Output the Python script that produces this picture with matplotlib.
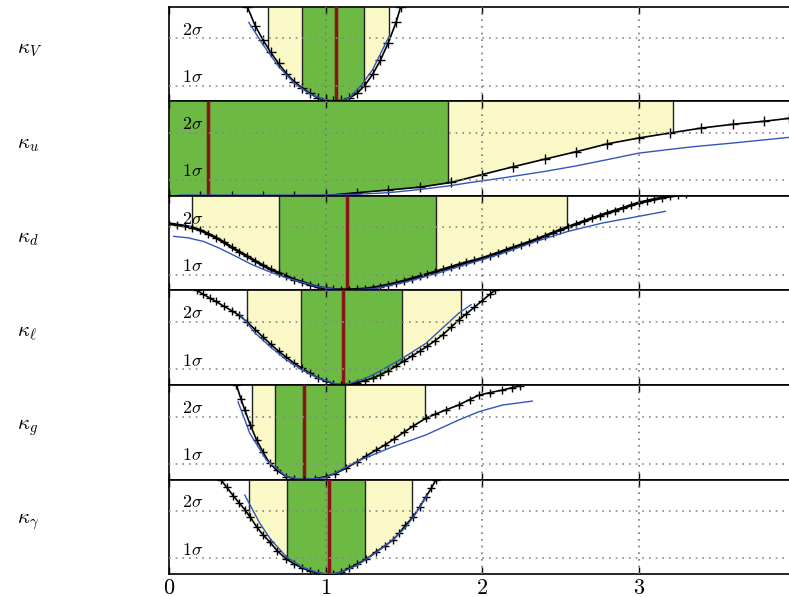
import numpy as np
import matplotlib
matplotlib.use("Agg")
import matplotlib.pyplot as plt

plt.rcParams["mathtext.fontset"] = "cm"

# panel names
labels = [r"$\kappa_V$", r"$\kappa_u$", r"$\kappa_d$", r"$\kappa_\ell$", r"$\kappa_g$", r"$\kappa_\gamma$"]

# kappa_V
kV_x = [0.50, 0.55, 0.60, 0.65, 0.70, 0.75, 0.80, 0.85, 0.90, 0.95, 1.00, 1.05, 1.10, 1.15, 1.20, 1.25, 1.30, 1.35, 1.40, 1.45, 1.48]
kV_chi = [6.0, 4.8, 3.9, 3.1, 2.4, 1.75, 1.25, 0.85, 0.5, 0.22, 0.05, 0.0, 0.05, 0.2, 0.5, 1.0, 1.7, 2.6, 3.7, 5.0, 6.0]
kV_bx = [0.51, 0.60, 0.70, 0.80, 0.90, 1.00, 1.07, 1.15, 1.227, 1.30, 1.36, 1.41]
kV_blue = [5.0, 3.6, 2.2, 1.15, 0.45, 0.08, 0.0, 0.2, 1.0, 2.0, 3.2, 4.2]

# kappa_u
ku_x = [0.0, 0.2, 0.4, 0.6, 0.8, 1.0, 1.2, 1.4, 1.6, 1.8, 2.0, 2.2, 2.4, 2.6, 2.8, 3.0, 3.2, 3.4, 3.6, 3.8, 3.96]
ku_chi = [0.0, 0.0, 0.0, 0.0, 0.0, 0.02, 0.2, 0.37, 0.55, 0.85, 1.35, 1.85, 2.33, 2.8, 3.3, 3.67, 3.99, 4.3, 4.54, 4.73, 4.92]
ku_bx = [0.06, 0.5, 1.0, 1.2, 1.4, 1.6, 1.8, 1.92, 2.14, 2.4, 2.6, 2.8, 3.0, 3.2, 3.36, 3.6, 3.8, 3.96]
ku_blue = [0.05, 0.05, 0.05, 0.1, 0.2, 0.4, 0.65, 0.84, 1.15, 1.55, 1.9, 2.3, 2.71, 2.95, 3.13, 3.35, 3.55, 3.71]

# kappa_d
kd_x = [0.00, 0.05, 0.10, 0.15, 0.20, 0.25, 0.30, 0.35, 0.40, 0.45, 0.50, 0.55, 0.60, 0.65, 0.70, 0.75,
        0.80, 0.85, 0.90, 0.95, 1.00, 1.05, 1.10, 1.15, 1.20, 1.25, 1.30, 1.35, 1.40, 1.45, 1.50, 1.55,
        1.60, 1.65, 1.70, 1.75, 1.80, 1.85, 1.90, 1.95, 2.00, 2.05, 2.10, 2.15, 2.20, 2.25, 2.30, 2.35,
        2.40, 2.45, 2.50, 2.55, 2.60, 2.65, 2.70, 2.75, 2.80, 2.85, 2.90, 2.95, 3.00, 3.05, 3.10, 3.15,
        3.20, 3.25, 3.30]
kd_chi = [4.24, 4.17, 4.09, 3.99, 3.82, 3.59, 3.35, 3.06, 2.74, 2.45, 2.16, 1.87, 1.59, 1.33, 1.12, 0.90,
          0.69, 0.53, 0.37, 0.22, 0.13, 0.07, 0.05, 0.05, 0.07, 0.10, 0.17, 0.25, 0.36, 0.47, 0.61, 0.75,
          0.89, 1.03, 1.18, 1.33, 1.48, 1.64, 1.78, 1.90, 2.04, 2.21, 2.38, 2.56, 2.73, 2.90, 3.07, 3.26,
          3.45, 3.65, 3.85, 4.03, 4.21, 4.39, 4.57, 4.74, 4.91, 5.07, 5.23, 5.40, 5.56, 5.67, 5.78, 5.88,
          5.97, 6.05, 6.12]
kd_bx = [0.03, 0.12, 0.22, 0.32, 0.43, 0.53, 0.64, 0.75, 0.855, 0.95, 1.05, 1.15, 1.3, 1.5, 1.7, 1.9, 2.13, 2.34, 2.55, 2.77, 3.0, 3.17]
kd_blue = [3.43, 3.34, 3.11, 2.69, 2.15, 1.64, 1.19, 0.8, 0.5, 0.25, 0.08, 0.03, 0.1, 0.5, 1.05, 1.65, 2.35, 3.1, 3.75, 4.28, 4.7, 5.02]

# kappa_l
kl_x = [0.18, 0.22, 0.26, 0.30, 0.35, 0.40, 0.45, 0.50, 0.55, 0.60, 0.65, 0.70, 0.75, 0.80, 0.85, 0.90,
        0.95, 1.00, 1.05, 1.10, 1.15, 1.20, 1.25, 1.30, 1.35, 1.40, 1.45, 1.50, 1.55, 1.60, 1.65, 1.70,
        1.75, 1.80, 1.85, 1.90, 1.95, 2.00, 2.05, 2.08]
kl_chi = [6.0, 5.75, 5.52, 5.3, 5.0, 4.72, 4.42, 3.98, 3.52, 3.05, 2.58, 2.15, 1.75, 1.39, 1.06, 0.74,
          0.46, 0.24, 0.09, 0.02, 0.05, 0.15, 0.28, 0.43, 0.64, 0.90, 1.20, 1.51, 1.83, 2.13, 2.47, 2.82,
          3.2, 3.65, 4.12, 4.52, 4.93, 5.35, 5.76, 6.0]
kl_bx = [0.452, 0.55, 0.65, 0.75, 0.85, 0.95, 1.05, 1.12, 1.25, 1.32, 1.49, 1.64, 1.85, 1.93]
kl_blue = [4.5, 3.3, 2.4, 1.6, 0.95, 0.45, 0.12, 0.0, 0.4, 0.74, 1.69, 2.64, 4.55, 5.1]

# kappa_g
kg_x = [0.431, 0.46, 0.484, 0.52, 0.559, 0.60, 0.643, 0.69, 0.75, 0.80, 0.86, 0.93, 1.00, 1.06, 1.13, 1.20,
        1.26, 1.32, 1.38, 1.44, 1.50, 1.56, 1.64, 1.70, 1.77, 1.85, 1.92, 1.98, 2.05, 2.13, 2.19, 2.24]
kg_chi = [6.0, 5.1, 4.41, 3.45, 2.52, 1.75, 1.03, 0.58, 0.18, 0.06, 0.0, 0.06, 0.18, 0.38, 0.72, 1.12,
          1.5, 1.86, 2.2, 2.6, 3.0, 3.4, 3.89, 4.15, 4.43, 4.73, 5.08, 5.36, 5.52, 5.68, 5.83, 5.95]
kg_bx = [0.441, 0.516, 0.622, 0.75, 0.85, 1.0, 1.22, 1.43, 1.64, 1.85, 1.98, 2.13, 2.32]
kg_blue = [4.94, 2.94, 1.24, 0.2, 0.0, 0.12, 1.24, 2.09, 2.83, 3.78, 4.31, 4.73, 4.98]

# kappa_gamma
ka_x = [0.33, 0.37, 0.41, 0.45, 0.484, 0.52, 0.56, 0.60, 0.643, 0.69, 0.75, 0.80, 0.85, 0.90, 0.95, 1.00,
        1.05, 1.10, 1.15, 1.20, 1.26, 1.32, 1.38, 1.43, 1.47, 1.51, 1.56, 1.60, 1.64, 1.675, 1.705]
ka_chi = [6.0, 5.5, 4.98, 4.5, 4.1, 3.6, 3.0, 2.5, 2.05, 1.5, 0.95, 0.65, 0.4, 0.2, 0.07, 0.01,
          0.03, 0.12, 0.37, 0.62, 0.95, 1.4, 1.8, 2.17, 2.6, 3.1, 3.65, 4.25, 4.9, 5.45, 6.0]
ka_bx = [0.484, 0.58, 0.65, 0.75, 0.85, 0.95, 1.02, 1.1, 1.2, 1.32, 1.43, 1.51, 1.58, 1.65]
ka_blue = [5.02, 3.23, 2.2, 1.1, 0.45, 0.1, 0.0, 0.12, 0.55, 1.35, 2.2, 2.95, 3.9, 5.02]

black = [(kV_x, kV_chi), (ku_x, ku_chi), (kd_x, kd_chi), (kl_x, kl_chi), (kg_x, kg_chi), (ka_x, ka_chi)]
blue = [(kV_bx, kV_blue), (ku_bx, ku_blue), (kd_bx, kd_blue), (kl_bx, kl_blue), (kg_bx, kg_blue), (ka_bx, ka_blue)]
green = [(0.852, 1.248), (0.0, 1.78), (0.70, 1.705), (0.845, 1.49), (0.68, 1.127), (0.756, 1.25)]
yellow = [(0.633, 1.408), (0.0, 3.22), (0.148, 2.54), (0.499, 1.868), (0.527, 1.635), (0.511, 1.552)]
best = [1.068, 0.25, 1.136, 1.11, 0.86, 1.021]

W, H = 789, 597
fig = plt.figure(figsize=(W / 100, H / 100), dpi=100)
top, bot = 1 - 6.7 / H, 1 - 574.2 / H
left = 169 / W
ph = (top - bot) / 6
YMAX = 6.0

for i in range(6):
    y0 = top - (i + 1) * ph
    ax = fig.add_axes([left, y0, 1 - left, ph])
    bx, by = black[i]
    # shaded regions above the profile curve
    for (a, b), col in [(yellow[i], "#faf8c6"), (green[i], "#6cb944")]:
        xs = np.linspace(a, b, 200)
        ax.fill_between(xs, np.interp(xs, bx, by), YMAX, color=col, lw=0, zorder=1)
        for e in (a, b):
            if e > 0:
                ax.vlines(e, np.interp(e, bx, by), YMAX, color="#222222", lw=1, zorder=1.5)
    ax.axvline(best[i], color="#8b1216", lw=2.5, zorder=3)
    lw = 2.0 if i == 2 else 1.2
    ms = 7 if i < 2 else 6
    ax.plot(bx, by, color="k", lw=lw, marker="+", ms=ms, mew=1, zorder=4)
    ax.plot(blue[i][0], blue[i][1], color="#3355bb", lw=1, zorder=4.5)

    for yv in (1, 4):
        ax.axhline(yv, color="#888888", ls=(0, (1, 3)), lw=1.2, zorder=5)
    for xv in (1, 2, 3):
        ax.axvline(xv, color="#777777", ls=(0, (1, 3)), lw=1.2, zorder=5)

    ax.text(0.08, 4.55, r"$2\sigma$", fontsize=13, va="center", zorder=6)
    ax.text(0.08, 1.55, r"$1\sigma$", fontsize=13, va="center", zorder=6)

    ax.set_xlim(0, 3.96)
    ax.set_ylim(0, YMAX)
    ax.set_yticks([])
    ax.set_xticks([0, 1, 2, 3])
    ax.tick_params(axis="x", direction="in", top=True, length=5, width=1)
    ax.spines["right"].set_visible(False)
    for s in ("left", "top", "bottom"):
        ax.spines[s].set_linewidth(1.2)
    if i < 5:
        ax.set_xticklabels([])
    else:
        ax.set_xticklabels([r"$0$", r"$1$", r"$2$", r"$3$"], fontsize=16)
        ax.tick_params(axis="x", pad=3)

    fig.text(0.022, y0 + ph * 0.55, labels[i], fontsize=15, va="center", ha="left")

fig.savefig("out.png", dpi=100)
